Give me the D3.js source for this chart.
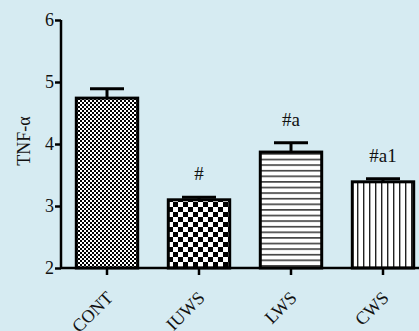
<!DOCTYPE html>
<html>
<head>
<meta charset="utf-8">
<script src="https://cdn.jsdelivr.net/npm/d3@7"></script>
<style>
  html, body { margin: 0; padding: 0; background: #d6ebf2; }
  svg { display: block; }
  text { font-family: "Liberation Serif", "Times New Roman", serif; fill: #111; }
</style>
</head>
<body>
<svg id="chart" width="419" height="331"></svg>
<script>
// Group names, means, SEM and significance marks
const categories = ["CONT", "IUWS", "LWS", "CWS"];
const means = [4.74, 3.10, 3.87, 3.39];
const errors = [0.15, 0.04, 0.15, 0.05];
const marks = ["", "#", "#a", "#a1"];
const yTicks = [2, 3, 4, 5, 6];
const patternIds = ["p-fine", "p-check", "p-hlines", "p-vlines"];

const svg = d3.select("#chart");
const defs = svg.append("defs");

// Fine checkerboard
const pf = defs.append("pattern").attr("id", "p-fine").attr("patternUnits", "userSpaceOnUse")
  .attr("width", 4).attr("height", 4);
pf.append("rect").attr("width", 4).attr("height", 4).attr("fill", "#fff");
pf.append("rect").attr("width", 2).attr("height", 2).attr("fill", "#000");
pf.append("rect").attr("x", 2).attr("y", 2).attr("width", 2).attr("height", 2).attr("fill", "#000");

// Coarse checkerboard
const pc = defs.append("pattern").attr("id", "p-check").attr("patternUnits", "userSpaceOnUse")
  .attr("width", 10).attr("height", 10).attr("x", 3).attr("y", 2);
pc.append("rect").attr("width", 10).attr("height", 10).attr("fill", "#fff");
pc.append("rect").attr("width", 5).attr("height", 5).attr("fill", "#000");
pc.append("rect").attr("x", 5).attr("y", 5).attr("width", 5).attr("height", 5).attr("fill", "#000");

// Horizontal stripes
const ph = defs.append("pattern").attr("id", "p-hlines").attr("patternUnits", "userSpaceOnUse")
  .attr("width", 10).attr("height", 5.6);
ph.append("rect").attr("width", 10).attr("height", 5.6).attr("fill", "#fff");
ph.append("rect").attr("y", 2).attr("width", 10).attr("height", 1.4).attr("fill", "#222");

// Vertical stripes
const pv = defs.append("pattern").attr("id", "p-vlines").attr("patternUnits", "userSpaceOnUse")
  .attr("width", 6).attr("height", 10).attr("x", 1);
pv.append("rect").attr("width", 6).attr("height", 10).attr("fill", "#fff");
pv.append("rect").attr("x", 2).attr("width", 1.4).attr("height", 10).attr("fill", "#222");

const margin = { left: 61, right: 0, top: 20, bottom: 63 };
const W = 419, H = 331;

const x = d3.scaleBand().domain(categories)
  .range([margin.left, margin.left + 4 * 92]).paddingInner(0.3).paddingOuter(0.15);
const y = d3.scaleLinear().domain([2, 6]).range([H - margin.bottom, margin.top]);

// Bars
svg.append("g").selectAll("rect").data(categories).join("rect")
  .attr("x", d => x(d) + 1.5)
  .attr("y", (d, i) => y(means[i]))
  .attr("width", x.bandwidth() - 3)
  .attr("height", (d, i) => y(2) - y(means[i]))
  .attr("fill", (d, i) => `url(#${patternIds[i]})`)
  .attr("stroke", "#000").attr("stroke-width", 3);

// Error bars (upper only)
const eb = svg.append("g").selectAll("g").data(categories).join("g");
eb.append("line")
  .attr("x1", d => x(d) + x.bandwidth() / 2).attr("x2", d => x(d) + x.bandwidth() / 2)
  .attr("y1", (d, i) => y(means[i])).attr("y2", (d, i) => y(means[i] + errors[i]))
  .attr("stroke", "#000").attr("stroke-width", 3);
eb.append("line")
  .attr("x1", d => x(d) + x.bandwidth() / 2 - 17).attr("x2", d => x(d) + x.bandwidth() / 2 + 17)
  .attr("y1", (d, i) => y(means[i] + errors[i])).attr("y2", (d, i) => y(means[i] + errors[i]))
  .attr("stroke", "#000").attr("stroke-width", 3);

// Significance marks
svg.append("g").selectAll("text").data(categories).join("text")
  .attr("x", d => x(d) + x.bandwidth() / 2)
  .attr("y", (d, i) => y(means[i] + errors[i]) - 17)
  .attr("text-anchor", "middle")
  .attr("font-size", 19)
  .text((d, i) => marks[i]);

// Y axis
const yAxis = svg.append("g").attr("transform", `translate(${margin.left},0)`)
  .call(d3.axisLeft(y).tickValues(yTicks).tickFormat(d3.format("d")).tickSize(6).tickPadding(1));
yAxis.select(".domain").attr("stroke", "#000").attr("stroke-width", 2.5).attr("d", `M0,${y(6)}V${y(2)}`);
yAxis.selectAll(".tick line").attr("stroke", "#000").attr("stroke-width", 2.5);
yAxis.selectAll(".tick text").attr("font-size", 18).attr("font-family", "Liberation Serif, serif").attr("fill", "#111");

// X axis
const xAxis = svg.append("g").attr("transform", `translate(0,${y(2)})`)
  .call(d3.axisBottom(x).tickSize(7).tickFormat(""));
xAxis.select(".domain").attr("stroke", "#000").attr("stroke-width", 2.5).attr("d", `M${margin.left},0H${W}`);
xAxis.selectAll(".tick line").attr("stroke", "#000").attr("stroke-width", 2.5);

// Rotated category labels
svg.append("g").selectAll("text").data(categories).join("text")
  .attr("transform", d => `translate(${x(d) + x.bandwidth() / 2 + 4},${y(2) + 28}) rotate(-45)`)
  .attr("text-anchor", "end")
  .attr("dominant-baseline", "middle")
  .attr("font-size", 18)
  .text(d => d);

// Y axis title
svg.append("text")
  .attr("transform", `translate(30,141) rotate(-90)`)
  .attr("text-anchor", "middle")
  .attr("font-size", 18)
  .text("TNF-α");
</script>
</body>
</html>
